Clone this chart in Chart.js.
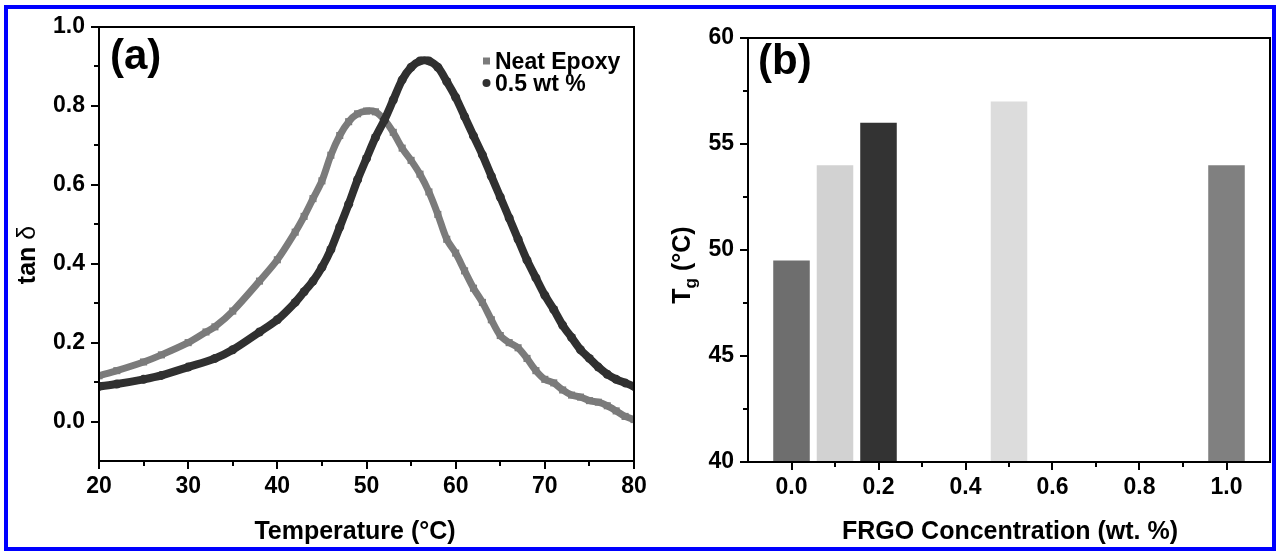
<!DOCTYPE html>
<html>
<head>
<meta charset="utf-8">
<script src="https://cdn.jsdelivr.net/npm/chart.js@4/dist/chart.umd.min.js"></script>
<style>
  html, body { margin: 0; padding: 0; background: #fff; }
  #wrap { position: relative; width: 1276px; height: 551px; overflow: hidden; background: #fff; }
  canvas { position: absolute; top: 0; }
  #chartA { left: 0; }
  #chartB { left: 640px; }
  #frame { position: absolute; left: 4px; top: 5px; width: 1272px; height: 546px;
           border: 4px solid #0000ff; box-sizing: border-box; pointer-events: none; }
</style>
</head>
<body>
<div id="wrap">
  <canvas id="chartA" width="660" height="551"></canvas>
  <canvas id="chartB" width="636" height="551"></canvas>
  <div id="frame"></div>
</div>
<script>
// (a) tan delta vs temperature
const seriesNames = ["Neat Epoxy", "0.5 wt %"];
const tempNeat = [20, 22, 25, 27, 30, 32, 33, 35, 38, 40, 42, 43, 44, 45, 46, 47, 48, 49, 50, 51, 52, 53, 54, 55, 56, 57, 58, 59, 60,
                  61, 62, 63, 64, 65, 66, 67, 68, 69, 70, 71, 72, 73, 74, 75, 76, 77, 78, 79, 80];
const tanNeat  = [0.116, 0.129, 0.151, 0.169, 0.200, 0.227, 0.240, 0.280, 0.356, 0.410, 0.480, 0.520, 0.565, 0.610, 0.675, 0.725,
                  0.760, 0.780, 0.787, 0.785, 0.765, 0.733, 0.693, 0.662, 0.627, 0.582, 0.525, 0.462, 0.427, 0.382, 0.338, 0.302,
                  0.258, 0.218, 0.200, 0.187, 0.160, 0.129, 0.107, 0.098, 0.080, 0.067, 0.062, 0.053, 0.049, 0.040, 0.027, 0.013, 0.005];
const tempFrgo = [20, 22, 25, 27, 30, 33, 35, 38, 40, 42, 43, 44, 45, 46, 47, 48, 49, 50, 51, 52, 53, 54, 55, 56, 57, 58, 59, 60,
                  61, 62, 63, 64, 65, 66, 67, 68, 69, 70, 71, 72, 73, 74, 75, 76, 77, 78, 79, 80];
const tanFrgo  = [0.089, 0.095, 0.107, 0.117, 0.138, 0.160, 0.182, 0.227, 0.258, 0.302, 0.329, 0.356, 0.391, 0.436, 0.493, 0.551,
                  0.613, 0.667, 0.720, 0.764, 0.815, 0.866, 0.898, 0.914, 0.914, 0.898, 0.862, 0.822, 0.773, 0.724, 0.676, 0.622,
                  0.569, 0.516, 0.462, 0.409, 0.364, 0.320, 0.284, 0.244, 0.213, 0.182, 0.160, 0.138, 0.120, 0.107, 0.098, 0.089];
const aXTicks = [20, 30, 40, 50, 60, 70, 80];
const aXLabels = ["20", "30", "40", "50", "60", "70", "80"];
const aXMinor = [25, 35, 45, 55, 65, 75];
const aYTicks = [0.0, 0.2, 0.4, 0.6, 0.8, 1.0];
const aYLabels = ["0.0", "0.2", "0.4", "0.6", "0.8", "1.0"];
const aYMinor = [0.1, 0.3, 0.5, 0.7, 0.9];

// (b) Tg vs FRGO concentration
const concentrations = [0.0, 0.1, 0.2, 0.5, 1.0];
const tgValues = [49.5, 54, 56, 57, 54];
const barColors = ["#6e6e6e", "#d2d2d2", "#333333", "#dcdcdc", "#808080"];
const bXTicks = [0.0, 0.2, 0.4, 0.6, 0.8, 1.0];
const bXLabels = ["0.0", "0.2", "0.4", "0.6", "0.8", "1.0"];
const bXMinor = [0.1, 0.3, 0.5, 0.7, 0.9];
const bYTicks = [40, 45, 50, 55, 60];
const bYLabels = ["40", "45", "50", "55", "60"];
const bYMinor = [42.5, 47.5, 52.5, 57.5];

const FONT = "'Liberation Sans', Arial, sans-serif";
Chart.defaults.font.family = FONT;
Chart.defaults.color = "#000";

const toXY = (xs, ys) => xs.map((x, i) => ({ x: x, y: ys[i] }));

function axis(ticks, labels, min, max, isY, size, pad) {
  return {
    type: "linear", min: min, max: max, offset: false, beginAtZero: false,
    afterBuildTicks: a => { a.ticks = ticks.map(v => ({ value: v })); },
    afterFit: a => { if (isY) a.width = size; else a.height = size; },
    ticks: { autoSkip: false, maxRotation: 0, padding: pad,
             font: { size: 23, weight: "bold" }, color: "#000",
             callback: (v, i) => labels[i] },
    grid: { drawOnChartArea: false, drawTicks: true, tickLength: 8, color: "#000", lineWidth: 2, offset: false },
    border: { display: true, color: "#000", width: 2 },
    title: { display: false }
  };
}

// text made of runs with different fonts / offsets, centred on x
function runs(ctx, parts, x, y, rotate) {
  ctx.save();
  ctx.translate(x, y);
  if (rotate) ctx.rotate(-Math.PI / 2);
  ctx.textBaseline = "alphabetic";
  ctx.textAlign = "left";
  let w = 0;
  parts.forEach(p => { ctx.font = p.f; w += ctx.measureText(p.t).width; });
  let u = -w / 2;
  parts.forEach(p => {
    ctx.font = p.f;
    ctx.fillText(p.t, u, p.dy || 0);
    u += ctx.measureText(p.t).width;
  });
  ctx.restore();
}

function minorTicks(ctx, chart, xs, ys) {
  const ca = chart.chartArea;
  const sx = chart.scales.x, sy = chart.scales.y;
  ctx.save();
  ctx.strokeStyle = "#000";
  ctx.lineWidth = 2;
  ctx.beginPath();
  xs.forEach(v => { const p = Math.round(sx.getPixelForValue(v)); ctx.moveTo(p, ca.bottom); ctx.lineTo(p, ca.bottom + 5); });
  ys.forEach(v => { const p = Math.round(sy.getPixelForValue(v)); ctx.moveTo(ca.left, p); ctx.lineTo(ca.left - 5, p); });
  ctx.stroke();
  ctx.strokeRect(ca.left, ca.top, ca.right - ca.left, ca.bottom - ca.top);
  ctx.restore();
}

const B = "bold ";
const decorA = {
  id: "decorA",
  afterDraw(chart) {
    const ctx = chart.ctx;
    minorTicks(ctx, chart, aXMinor, aYMinor);
    ctx.fillStyle = "#000";
    ctx.save();
    ctx.font = B + "42px " + FONT;
    ctx.fillText("(a)", 110, 69);
    ctx.restore();
    runs(ctx, [{ t: "Temperature (°C)", f: B + "25px " + FONT }], 355, 539, false);
    runs(ctx, [{ t: "tan ", f: B + "25px " + FONT }, { t: "δ", f: "25px " + FONT }], 35, 255, true);
    // legend
    const ds = chart.data.datasets;
    const rows = [ds[1], ds[0]];
    rows.forEach((d, i) => {
      const cy = 61 + i * 22;
      ctx.fillStyle = d.backgroundColor;
      ctx.beginPath();
      if (d.pointStyle === "rect") ctx.rect(483, cy - 3.5, 7, 7);
      else ctx.arc(486.5, cy, 4, 0, Math.PI * 2);
      ctx.fill();
      ctx.fillStyle = "#000";
      ctx.font = B + "23px " + FONT;
      ctx.textAlign = "left";
      ctx.fillText(d.label, 495, cy + 8);
    });
  }
};

new Chart(document.getElementById("chartA"), {
  type: "scatter",
  data: {
    datasets: [
      { label: seriesNames[1], data: toXY(tempFrgo, tanFrgo), order: 1,
        backgroundColor: "#303030", borderColor: "#303030", pointStyle: "circle",
        pointRadius: 4.5, pointBorderWidth: 0, showLine: true, borderWidth: 8, tension: 0.3,
        borderJoinStyle: "round", borderCapStyle: "round" },
      { label: seriesNames[0], data: toXY(tempNeat, tanNeat), order: 2,
        backgroundColor: "#7b7b7b", borderColor: "#7b7b7b", pointStyle: "rect",
        pointRadius: 5, pointBorderWidth: 0, showLine: true, borderWidth: 7, tension: 0.3,
        borderJoinStyle: "round", borderCapStyle: "butt" }
    ]
  },
  options: {
    responsive: false, animation: false, devicePixelRatio: 1,
    layout: { padding: { left: 0, top: 27, right: 26, bottom: 0 } },
    plugins: { legend: { display: false }, tooltip: { enabled: false } },
    scales: {
      x: axis(aXTicks, aXLabels, 20, 80, false, 90, 4),
      y: axis(aYTicks, aYLabels, -0.1, 1.0, true, 99, 6)
    }
  },
  plugins: [decorA]
});

const decorB = {
  id: "decorB",
  afterDraw(chart) {
    const ctx = chart.ctx;
    minorTicks(ctx, chart, bXMinor, bYMinor);
    ctx.fillStyle = "#000";
    ctx.save();
    ctx.font = B + "42px " + FONT;
    ctx.fillText("(b)", 118, 74);
    ctx.restore();
    runs(ctx, [{ t: "FRGO Concentration (wt. %)", f: B + "25px " + FONT }], 370, 539, false);
    runs(ctx, [{ t: "T", f: B + "25px " + FONT }, { t: "g", f: B + "17px " + FONT, dy: 6 },
               { t: " (°C)", f: B + "25px " + FONT }], 50, 265, true);
  }
};

new Chart(document.getElementById("chartB"), {
  type: "bar",
  data: {
    datasets: [{
      label: "Tg", data: toXY(concentrations, tgValues),
      backgroundColor: barColors, borderWidth: 0, base: 40,
      barPercentage: 0.84, categoryPercentage: 1
    }]
  },
  options: {
    responsive: false, animation: false, devicePixelRatio: 1,
    layout: { padding: { left: 0, top: 38, right: 6, bottom: 0 } },
    plugins: { legend: { display: false }, tooltip: { enabled: false } },
    scales: {
      x: axis(bXTicks, bXLabels, -0.1, 1.1, false, 89, 4),
      y: axis(bYTicks, bYLabels, 40, 60, true, 108, 6)
    }
  },
  plugins: [decorB]
});
</script>
</body>
</html>
